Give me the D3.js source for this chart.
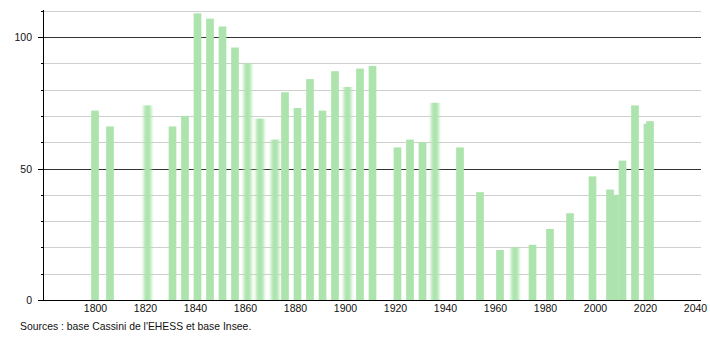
<!DOCTYPE html>
<html><head><meta charset="utf-8">
<script src="https://cdn.jsdelivr.net/npm/d3@7"></script>
<style>body{margin:0;background:#fff}svg{display:block}text{font-family:"Liberation Sans",Arial,sans-serif}</style>
</head><body><svg id="c" width="710" height="340"></svg>
<script>
const years = [1800,1806,1821,1831,1836,1841,1846,1851,1856,1861,1866,1872,1876,1881,1886,1891,1896,1901,1906,1911,1921,1926,1931,1936,1946,1954,1962,1968,1975,1982,1990,1999,2006,2008,2011,2016,2021,2022];
const population = [72,66,74,66,70,109,107,104,96,90,69,61,79,73,84,72,87,81,88,89,58,61,60,75,58,41,19,20,21,27,33,47,42,40,53,74,67,68];
const xTicks = [1800,1820,1840,1860,1880,1900,1920,1940,1960,1980,2000,2020,2040];
const yTicks = [0,50,100];
const yGrid = [0,10,20,30,40,50,60,70,80,90,100,110];
const sourceText = "Sources : base Cassini de l'EHESS et base Insee.";

const svg = d3.select("#c");
const x = d3.scaleLinear().domain([1780, 2040]).range([45, 695]);
const y = d3.scaleLinear().domain([0, 110]).range([300, 10.7]);
const fuzzy = new Set([1821, 1861, 1866, 1872, 1901, 1936, 1968]);

const defs = svg.append("defs");
const f = defs.append("filter").attr("id","blur").attr("x","-50%").attr("width","200%");
f.append("feGaussianBlur").attr("stdDeviation","1.4 0.6");

// gridlines
svg.append("g").selectAll("line").data(yGrid.filter(d => d !== 0)).join("line")
  .attr("x1", 43).attr("x2", 701)
  .attr("y1", d => Math.round(y(d)) + 0.5).attr("y2", d => Math.round(y(d)) + 0.5)
  .attr("stroke", d => d % 50 === 0 ? "#333" : "#cfcfcf").attr("stroke-width", 1);

// bars
const bw = 7.7;
svg.append("g").selectAll("rect").data(years.map((yr, i) => ({yr, v: population[i]}))).join("rect")
  .attr("x", d => x(d.yr) - bw / 2).attr("width", bw)
  .attr("y", d => y(d.v)).attr("height", d => y(0) - y(d.v))
  .attr("fill", "#ade4ad")
  .attr("filter", d => fuzzy.has(d.yr) ? "url(#blur)" : null);

// y axis
svg.append("line").attr("x1", 43.5).attr("x2", 43.5).attr("y1", 10).attr("y2", 300).attr("stroke", "#000");
svg.append("g").selectAll("line").data(yGrid).join("line")
  .attr("x1", d => d % 50 === 0 ? 38 : 41).attr("x2", 43)
  .attr("y1", d => Math.round(y(d)) + 0.5).attr("y2", d => Math.round(y(d)) + 0.5)
  .attr("stroke", "#000");
svg.append("g").selectAll("text").data(yTicks).join("text")
  .attr("x", 32).attr("y", d => y(d) + 4)
  .attr("text-anchor", "end").attr("font-size", 10.5).attr("fill", "#111")
  .text(d => d);

// x axis
svg.append("line").attr("x1", 43).attr("x2", 701).attr("y1", 300.5).attr("y2", 300.5).attr("stroke", "#000");
const xAxis = d3.axisBottom(x).tickValues(xTicks).tickSize(0).tickFormat(d3.format("d"));
const gx = svg.append("g").attr("transform", "translate(0,300)").call(xAxis);
gx.select(".domain").remove();
gx.selectAll("text").attr("font-size", 10.5).attr("fill", "#111").attr("dy", null).attr("y", 12)
  .attr("font-family", "'Liberation Sans', Arial, sans-serif");

svg.append("text").attr("x", 20).attr("y", 330).attr("font-size", 10.4).attr("fill", "#111").text(sourceText);
</script></body></html>
